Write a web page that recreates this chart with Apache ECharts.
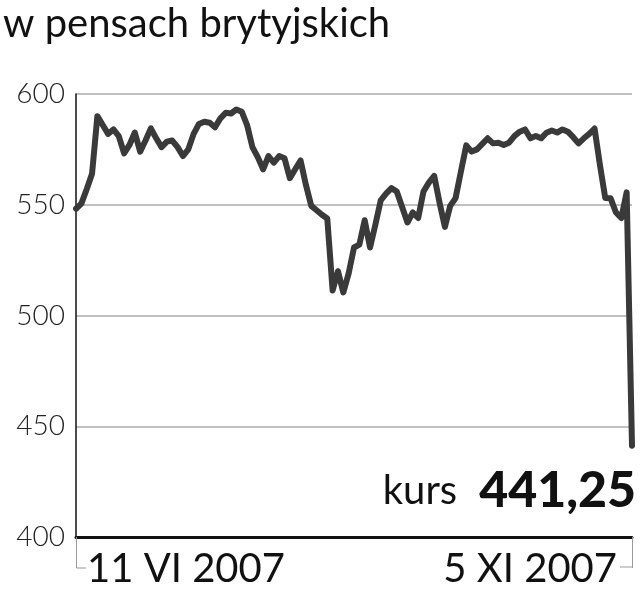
<!DOCTYPE html>
<html>
<head>
<meta charset="utf-8">
<script src="https://cdn.jsdelivr.net/npm/echarts@6/dist/echarts.min.js"></script>
<style>
  html, body { margin: 0; padding: 0; background: #fff; }
  #main { width: 640px; height: 593px; }
</style>
</head>
<body>
<div id="main"></div>
<script>
// kurs w pensach, notowania dzienne 11 VI 2007 - 5 XI 2007
const kurs = [
  548.2, 550.5, 557, 564, 590, 586, 582, 584, 581, 573.2,
  577, 582.6, 574, 579, 584.5, 580, 576, 578.5, 579, 576,
  572, 575, 582, 586.5, 587.5, 587, 585, 589, 591.5, 591.2,
  593, 592, 586, 576, 571.5, 566, 572, 569, 572, 571,
  562, 566, 570, 559, 549.5, 547.5, 545.5, 543.8, 511.3, 520,
  510.4, 519, 530.7, 532, 543, 530.7, 541, 552, 555, 557.5,
  556, 549, 542, 546.5, 544, 556, 560, 563, 551, 540,
  549.5, 553, 565, 576.8, 574, 575, 577.5, 580, 577.7, 578,
  577, 578, 581, 583, 584, 580, 581, 580, 582.5, 583.5,
  582.6, 584, 583, 580.5, 577.7, 580, 582, 584.4, 568, 553,
  552.9, 546.5, 544, 555.6, 441.25
];
const dni = kurs.map((v, i) => i);
const osXEtykiety = ['11 VI 2007', '5 XI 2007'];
const osYMin = 400;
const osYMax = 600;
const osYKrok = 50;

const ostatni = kurs[kurs.length - 1].toFixed(2).replace('.', ',');

const chart = echarts.init(document.getElementById('main'));
chart.setOption({
  animation: false,
  title: {
    text: 'w pensach brytyjskich',
    left: -2,
    top: -1,
    textStyle: { fontFamily: 'Lato', fontSize: 40, fontWeight: 'normal', color: '#111' }
  },
  grid: { left: 76, right: 8, top: 94, bottom: 56 },
  xAxis: {
    type: 'category',
    data: dni,
    boundaryGap: false,
    axisLine: { lineStyle: { color: '#111', width: 3 } },
    axisTick: {
      show: true,
      length: 31,
      interval: (i) => i === 0 || i === dni.length - 1,
      lineStyle: { color: '#999', width: 1 }
    },
    axisLabel: {
      interval: (i) => i === 0 || i === dni.length - 1,
      formatter: (v, i) => (i === 0 ? osXEtykiety[0] : osXEtykiety[1]),
      alignMinLabel: 'left',
      alignMaxLabel: 'right',
      padding: [0, 15, 0, 11],
      margin: 12,
      fontFamily: 'Lato',
      fontSize: 40,
      color: '#111'
    },
    splitLine: { show: false }
  },
  yAxis: {
    type: 'value',
    min: osYMin,
    max: osYMax,
    interval: osYKrok,
    axisLine: { show: true, lineStyle: { color: '#111', width: 1.5 } },
    axisTick: { show: false },
    axisLabel: {
      margin: 11,
      fontFamily: 'Lato',
      fontWeight: 300,
      fontSize: 28,
      color: '#222'
    },
    splitLine: { lineStyle: { color: '#aaa', width: 1.5 } }
  },
  graphic: [
    { type: 'line', shape: { x1: 76.5, y1: 568, x2: 86, y2: 568 }, style: { stroke: '#999', lineWidth: 1 } },
    { type: 'line', shape: { x1: 632.5, y1: 567, x2: 620, y2: 567 }, style: { stroke: '#999', lineWidth: 1 } },
    {
      type: 'text',
      right: 4,
      top: 466,
      style: {
        text: '{a|kurs}{b|' + ostatni + '}',
        rich: {
          a: { fontFamily: 'Lato', fontWeight: 'normal', fontSize: 40, fill: '#111', padding: [0, 22, 0, 0] },
          b: { fontFamily: 'Lato', fontWeight: 900, fontSize: 50, fill: '#111' }
        }
      }
    }
  ],
  series: [{
    type: 'line',
    data: kurs,
    symbol: 'none',
    lineStyle: { color: '#3a3a3a', width: 6, join: 'round', cap: 'round' }
  }]
});
</script>
</body>
</html>
